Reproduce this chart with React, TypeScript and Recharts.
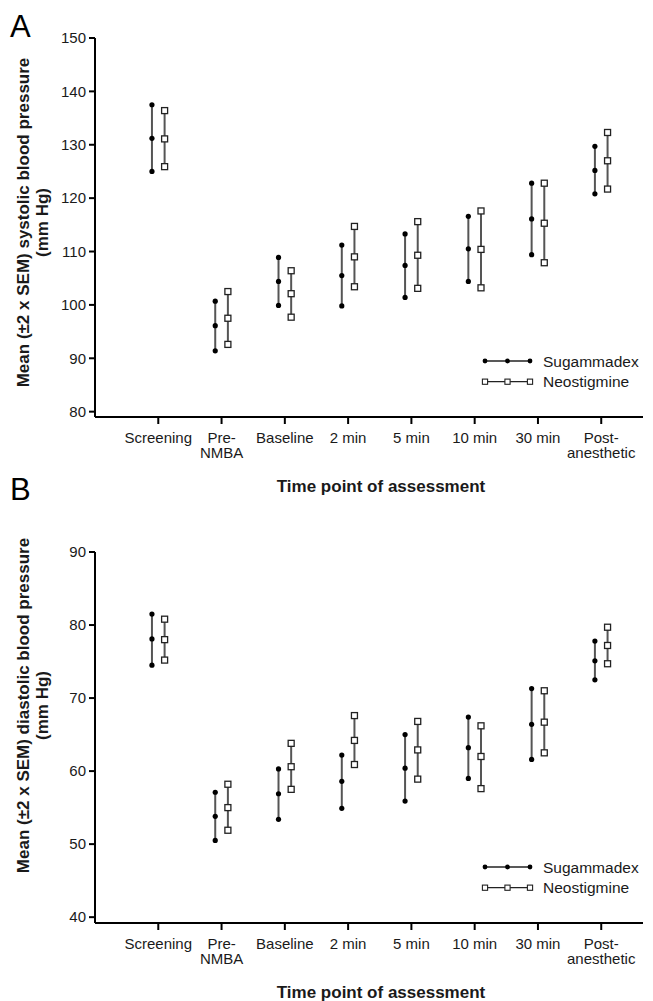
import React from 'react';
import { ComposedChart, Scatter, XAxis, YAxis, ErrorBar, Legend } from 'recharts';

// ---------- data ----------
const categories = ['Screening', 'Pre-\nNMBA', 'Baseline', '2 min', '5 min', '10 min', '30 min', 'Post-\nanesthetic'];
const categoryPositions = [1, 2, 3, 4, 5, 6, 7, 8];
const seriesNames = ['Sugammadex', 'Neostigmine'];

const sysTicks = [80, 90, 100, 110, 120, 130, 140, 150];
const diaTicks = [40, 50, 60, 70, 80, 90];

// Panel A – systolic
const sysSugHigh = [137.5, 100.7, 108.9, 111.2, 113.3, 116.6, 122.8, 129.7];
const sysSugMean = [131.2, 96.1, 104.4, 105.5, 107.4, 110.5, 116.1, 125.2];
const sysSugLow = [125.0, 91.4, 99.9, 99.8, 101.4, 104.4, 109.4, 120.8];
const sysNeoHigh = [136.4, 102.5, 106.4, 114.7, 115.6, 117.6, 122.8, 132.3];
const sysNeoMean = [131.1, 97.5, 102.1, 109.0, 109.3, 110.4, 115.3, 127.0];
const sysNeoLow = [125.9, 92.6, 97.7, 103.4, 103.1, 103.2, 107.9, 121.7];

// Panel B – diastolic
const diaSugHigh = [81.5, 57.1, 60.3, 62.2, 65.0, 67.4, 71.3, 77.8];
const diaSugMean = [78.1, 53.8, 56.9, 58.6, 60.4, 63.2, 66.4, 75.1];
const diaSugLow = [74.5, 50.5, 53.4, 54.9, 55.9, 59.0, 61.6, 72.5];
const diaNeoHigh = [80.8, 58.2, 63.8, 67.6, 66.8, 66.2, 71.0, 79.7];
const diaNeoMean = [78.0, 55.0, 60.6, 64.2, 62.9, 62.0, 66.7, 77.2];
const diaNeoLow = [75.2, 51.9, 57.5, 60.9, 58.9, 57.6, 62.5, 74.7];

// ---------- helpers ----------
const FONT = '"Liberation Sans", Arial, Helvetica, sans-serif';
const TEXT = '#1a1a1a';
const SUG_OFFSET = -0.1;
const NEO_OFFSET = 0.1;

function buildRows(mean: number[], low: number[], high: number[], offset: number) {
  return categoryPositions.map((p, i) => ({
    x: p + offset,
    y: mean[i],
    err: [mean[i] - low[i], high[i] - mean[i]],
  }));
}

function buildPoints(mean: number[], low: number[], high: number[], offset: number) {
  const out: { x: number; y: number }[] = [];
  categoryPositions.forEach((p, i) => {
    out.push({ x: p + offset, y: low[i] });
    out.push({ x: p + offset, y: mean[i] });
    out.push({ x: p + offset, y: high[i] });
  });
  return out;
}

const Dot = (props: any) => <circle cx={props.cx} cy={props.cy} r={2.6} fill="#000" />;
const Square = (props: any) => (
  <rect x={props.cx - 3} y={props.cy - 3} width={6} height={6} fill="#fff" stroke="#222" strokeWidth={1.3} />
);
const Nothing = () => <g />;

const XTick = (props: any) => {
  const { x, y, payload } = props;
  const idx = Math.round(payload.value) - 1;
  const label = categories[idx] ?? '';
  const lines = label.split('\n');
  return (
    <text x={x} y={y + 17} textAnchor="middle" fontFamily={FONT} fontSize={15} fill={TEXT}>
      {lines.map((l, i) => (
        <tspan key={i} x={x} dy={i === 0 ? 0 : 15}>
          {l}
        </tspan>
      ))}
    </text>
  );
};

const LegendBox = () => (
  <svg width={170} height={44}>
    {seriesNames.map((name, i) => {
      const cy = 11 + i * 20.7;
      const xs = [5, 27.5, 50];
      return (
        <g key={name}>
          <line x1={5} x2={50} y1={cy} y2={cy} stroke="#222" strokeWidth={1.3} />
          {xs.map((mx, j) =>
            i === 0 ? (
              <circle key={j} cx={mx} cy={cy} r={2.4} fill="#000" />
            ) : (
              <rect key={j} x={mx - 2.6} y={cy - 2.6} width={5.2} height={5.2} fill="#fff" stroke="#222" strokeWidth={1.1} />
            )
          )}
          <text x={63} y={cy} dy={5.5} fontFamily={FONT} fontSize={15.5} fill={TEXT}>
            {name}
          </text>
        </g>
      );
    })}
  </svg>
);

type PanelProps = {
  top: number;
  height: number;
  marginTop: number;
  xAxisHeight: number;
  domain: [number, number];
  ticks: number[];
  yLabelLines: string[];
  yLabelShift: number;
  sug: [number[], number[], number[]];
  neo: [number[], number[], number[]];
  legendTop: number;
  letter: string;
  letterTop: number;
};

function Panel(p: PanelProps) {
  const sugRows = buildRows(p.sug[0], p.sug[1], p.sug[2], SUG_OFFSET);
  const neoRows = buildRows(p.neo[0], p.neo[1], p.neo[2], NEO_OFFSET);
  const sugPts = buildPoints(p.sug[0], p.sug[1], p.sug[2], SUG_OFFSET);
  const neoPts = buildPoints(p.neo[0], p.neo[1], p.neo[2], NEO_OFFSET);

  const YLabel = (lp: any) => {
    const vb = lp.viewBox || { x: 0, y: p.marginTop, width: 95, height: 380 };
    const cy = vb.y + vb.height / 2 + p.yLabelShift;
    const xs = [29, 48];
    return (
      <g>
        {p.yLabelLines.map((l, i) => (
          <text
            key={i}
            x={xs[i]}
            y={cy}
            transform={`rotate(-90 ${xs[i]} ${cy})`}
            textAnchor="middle"
            fontFamily={FONT}
            fontWeight="bold"
            fontSize={17}
            fill={TEXT}
          >
            {l}
          </text>
        ))}
      </g>
    );
  };

  const XLabel = (lp: any) => {
    const vb = lp.viewBox || { x: 95, y: 0, width: 548 };
    const cx = vb.x + vb.width / 2 + 12;
    return (
      <text x={cx} y={vb.y + 75} textAnchor="middle" fontFamily={FONT} fontWeight="bold" fontSize={17} fill={TEXT}>
        Time point of assessment
      </text>
    );
  };

  return (
    <div style={{ position: 'absolute', left: 0, top: p.top, width: 653, height: p.height }}>
      <div
        style={{
          position: 'absolute',
          left: 10,
          top: p.letterTop,
          fontFamily: FONT,
          fontSize: 31,
          lineHeight: '31px',
          color: '#000',
        }}
      >
        {p.letter}
      </div>
      <ComposedChart
        width={653}
        height={p.height}
        margin={{ top: p.marginTop, right: 10, bottom: 0, left: 0 }}
      >
        <XAxis
          type="number"
          dataKey="x"
          domain={[0, 8.66]}
          allowDataOverflow
          ticks={categoryPositions}
          interval={0}
          height={p.xAxisHeight}
          tick={<XTick />}
          tickSize={7}
          tickMargin={2}
          axisLine={{ stroke: '#000', strokeWidth: 2 }}
          tickLine={{ stroke: '#000', strokeWidth: 2 }}
          label={XLabel}
        />
        <YAxis
          type="number"
          domain={p.domain}
          allowDataOverflow
          ticks={p.ticks}
          interval={0}
          width={95}
          tickSize={6}
          tickMargin={3}
          tick={{ fontFamily: FONT, fontSize: 15, fill: TEXT }}
          axisLine={{ stroke: '#000', strokeWidth: 2 }}
          tickLine={{ stroke: '#000', strokeWidth: 2 }}
          label={YLabel}
        />
        <Scatter name="sug-range" data={sugRows} dataKey="y" shape={Nothing} isAnimationActive={false} legendType="none">
          <ErrorBar dataKey="err" direction="y" width={0} stroke="#555" strokeWidth={2} isAnimationActive={false} />
        </Scatter>
        <Scatter name="neo-range" data={neoRows} dataKey="y" shape={Nothing} isAnimationActive={false} legendType="none">
          <ErrorBar dataKey="err" direction="y" width={0} stroke="#555" strokeWidth={2} isAnimationActive={false} />
        </Scatter>
        <Scatter name={seriesNames[0]} data={sugPts} dataKey="y" shape={Dot} isAnimationActive={false} />
        <Scatter name={seriesNames[1]} data={neoPts} dataKey="y" shape={Square} isAnimationActive={false} />
        <Legend
          layout="horizontal"
          align="center"
          verticalAlign="middle"
          content={() => <LegendBox />}
          wrapperStyle={{ position: 'absolute', left: 480, top: p.legendTop, width: 170, height: 44 }}
        />
      </ComposedChart>
    </div>
  );
}

export default function App() {
  return (
    <div style={{ position: 'absolute', left: 0, top: 0, width: 653, height: 1001, background: '#fff' }}>
      <Panel
        top={0}
        height={500}
        marginTop={38}
        xAxisHeight={83}
        domain={[79, 150]}
        ticks={sysTicks}
        yLabelLines={['Mean (±2 x SEM) systolic blood pressure', '(mm Hg)']}
        yLabelShift={-5}
        sug={[sysSugMean, sysSugLow, sysSugHigh]}
        neo={[sysNeoMean, sysNeoLow, sysNeoHigh]}
        legendTop={350}
        letter="A"
        letterTop={11}
      />
      <Panel
        top={460}
        height={541}
        marginTop={92}
        xAxisHeight={78}
        domain={[39.2, 90]}
        ticks={diaTicks}
        yLabelLines={['Mean (±2 x SEM) diastolic blood pressure', '(mm Hg)']}
        yLabelShift={-32}
        sug={[diaSugMean, diaSugLow, diaSugHigh]}
        neo={[diaNeoMean, diaNeoLow, diaNeoHigh]}
        legendTop={396}
        letter="B"
        letterTop={14}
      />
    </div>
  );
}
